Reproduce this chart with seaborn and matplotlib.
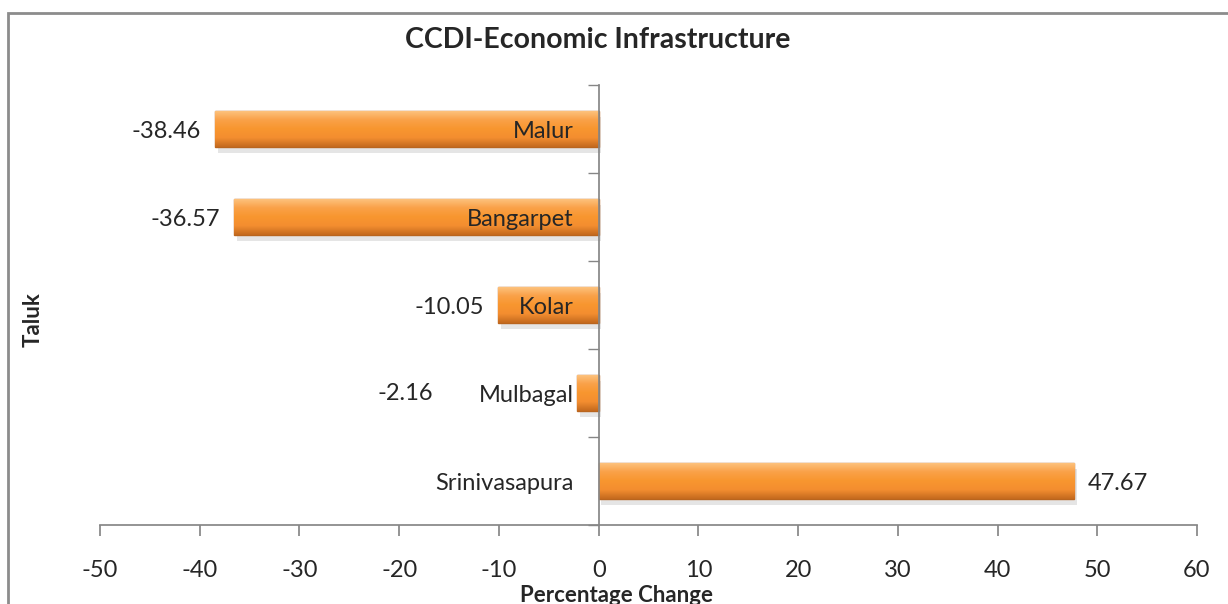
import numpy as np
import pandas as pd
import seaborn as sns
import matplotlib.pyplot as plt
from matplotlib import patheffects
from matplotlib.colors import LinearSegmentedColormap
from matplotlib.patches import Rectangle

# data
taluks = ['Malur', 'Bangarpet', 'Kolar', 'Mulbagal', 'Srinivasapura']
pct_change = [-38.46, -36.57, -10.05, -2.16, 47.67]
x_ticks = list(range(-50, 61, 10))

sns.set_theme(style='white')
plt.rcParams['font.family'] = ['Lato', 'DejaVu Sans']

df = pd.DataFrame({'Taluk': taluks, 'Change': pct_change})

fig = plt.figure(figsize=(12.28, 6.04), dpi=100)
ax = fig.add_axes([100 / 1228, 79 / 604, 1097 / 1228, 440 / 604])

sns.barplot(data=df, x='Change', y='Taluk', orient='h', color='#F79646',
            saturation=1, width=0.41, ax=ax)

# bevel-like vertical gradient on every bar, plus a soft shadow
grad_cmap = LinearSegmentedColormap.from_list(
    'bar', ['#FDC582', '#FAA24A', '#F8962F', '#F48E30', '#C46A1E'])
grad = np.linspace(0, 1, 64).reshape(-1, 1)
for p in ax.patches:
    p.set_edgecolor('#B9651E')
    p.set_linewidth(1)
    p.set_path_effects([patheffects.SimplePatchShadow(offset=(2, -4), shadow_rgbFace='#999999', alpha=0.25),
                        patheffects.Normal()])
    x0, y0, w, h = p.get_x(), p.get_y(), p.get_width(), p.get_height()
    im = ax.imshow(grad, cmap=grad_cmap, aspect='auto', origin='upper',
                   extent=(x0, x0 + w, y0 + h, y0), zorder=1.2)
    im.set_clip_path(p)

ax.set_xlim(-50, 60)
ax.set_ylim(len(taluks) - 0.5, -0.5)
ax.set_axisbelow(False)  # taluk names sit on top of the bars

# axis styling (Excel look)
axis_gray = '#868686'
for side in ['top', 'right']:
    ax.spines[side].set_visible(False)
ax.spines['left'].set_position(('data', 0))
ax.spines['left'].set_color(axis_gray)
ax.spines['bottom'].set_color(axis_gray)

ax.set_xticks(x_ticks)
ax.set_xticklabels([str(t) for t in x_ticks], fontsize=17)
ax.tick_params(axis='x', direction='out', length=8, color=axis_gray, pad=17, bottom=True)

ax.set_yticks(range(len(taluks)))
ax.set_yticklabels(taluks, fontsize=17)
ax.set_yticks(np.arange(len(taluks) + 1) - 0.5, minor=True)
ax.tick_params(axis='y', which='major', length=0, pad=18)
ax.tick_params(axis='y', which='minor', direction='out', length=8, color=axis_gray, left=True)

# value labels; a very short bar gets its label pushed past the taluk name
for i, v in enumerate(pct_change):
    if v >= 0:
        ax.text(v + 1.4, i + 0.03, f'{v:.2f}', ha='left', va='center', fontsize=17)
    elif v > -5:
        ax.text(-16.6, i, f'{v:.2f}', ha='right', va='center', fontsize=17)
    else:
        ax.text(v - 1.4, i + 0.03, f'{v:.2f}', ha='right', va='center', fontsize=17)

ax.set_xlabel('Percentage Change', fontsize=16, fontweight='bold', labelpad=0)
ax.xaxis.set_label_coords(0.471, -0.137)
ax.set_ylabel('')

fig.text(33 / 1228, 1 - 320 / 604, 'Taluk', rotation=90, ha='center', va='center',
         fontsize=16, fontweight='bold')
fig.text(598 / 1228, 1 - 40 / 604, 'CCDI-Economic Infrastructure', ha='center', va='center',
         fontsize=20.5, fontweight='bold')

# chart frame
fig.add_artist(Rectangle((8 / 1228, -0.1), 1.2, 591 / 604 + 0.1, transform=fig.transFigure,
                         fill=False, edgecolor='#8C8C8C', linewidth=2))

fig.savefig('out.png', dpi=100)
